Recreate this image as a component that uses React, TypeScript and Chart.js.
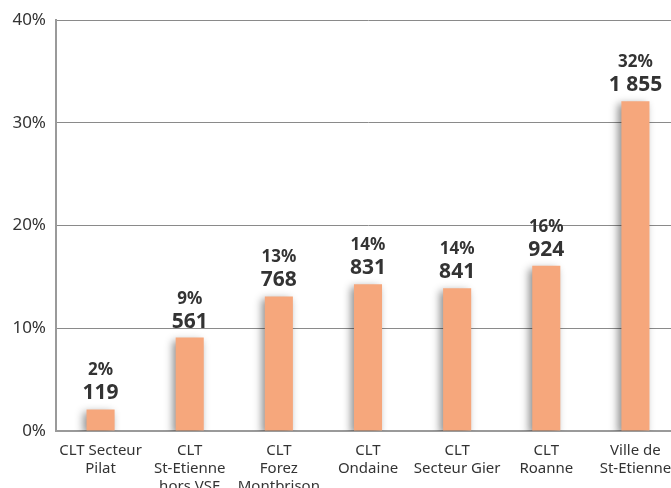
import React, { useEffect, useRef } from "react";
import { Chart, registerables } from "chart.js";

Chart.register(...registerables);

const categories: string[][] = [
  ["CLT Secteur", "Pilat"],
  ["CLT", "St-Etienne", "hors VSE"],
  ["CLT", "Forez", "Montbrison"],
  ["CLT", "Ondaine"],
  ["CLT", "Secteur Gier"],
  ["CLT", "Roanne"],
  ["Ville de", "St-Etienne"],
];
const shareValues: number[] = [2.1, 9.1, 13.1, 14.3, 13.9, 16.1, 32.1];
const percentLabels: string[] = ["2%", "9%", "13%", "14%", "14%", "16%", "32%"];
const countLabels: string[] = ["119", "561", "768", "831", "841", "924", "1 855"];
const yTicks: number[] = [0, 10, 20, 30, 40];

const FONT = "'Noto Sans', 'Open Sans', sans-serif";
const TEXT = "#333333";

const shadowPlugin = {
  id: "barShadow",
  beforeDatasetsDraw(chart: any) {
    const ctx = chart.ctx;
    ctx.save();
    ctx.shadowColor = "rgba(0,0,0,0.45)";
    ctx.shadowBlur = 8;
    ctx.shadowOffsetX = -3;
    ctx.shadowOffsetY = 3;
  },
  afterDatasetsDraw(chart: any) {
    chart.ctx.restore();
  },
};

const labelPlugin = {
  id: "barLabels",
  afterDraw(chart: any) {
    const ctx = chart.ctx;
    const meta = chart.getDatasetMeta(0);
    ctx.save();
    ctx.fillStyle = TEXT;
    ctx.textAlign = "center";
    ctx.textBaseline = "alphabetic";
    meta.data.forEach((bar: any, i: number) => {
      ctx.font = `bold 21px ${FONT}`;
      ctx.fillText(countLabels[i], bar.x, bar.y - 10);
      ctx.font = `bold 17px ${FONT}`;
      ctx.fillText(percentLabels[i], bar.x, bar.y - 34);
    });
    ctx.restore();
  },
};

export default function App() {
  const ref = useRef<HTMLCanvasElement | null>(null);

  useEffect(() => {
    if (!ref.current) return;
    const chart = new Chart(ref.current, {
      type: "bar",
      data: {
        labels: categories,
        datasets: [
          {
            data: shareValues,
            backgroundColor: "#F6A77C",
            borderWidth: 0,
            categoryPercentage: 1,
            barPercentage: 0.315,
          },
        ],
      },
      options: {
        responsive: false,
        animation: false,
        devicePixelRatio: 1,
        layout: { padding: { top: 16, right: 20, left: 0, bottom: 0 } },
        plugins: {
          legend: { display: false },
          tooltip: { enabled: false },
          title: { display: false },
        },
        scales: {
          x: {
            grid: { display: false, drawTicks: false },
            border: { color: "#9a9a9a", width: 2 },
            ticks: {
              color: TEXT,
              font: { family: FONT, size: 15, lineHeight: 1.2 },
              padding: 11,
              maxRotation: 0,
              autoSkip: false,
            },
            afterFit(scale: any) {
              scale.height = 89;
            },
          },
          y: {
            min: 0,
            max: 40,
            afterBuildTicks(scale: any) {
              scale.ticks = yTicks.map((v) => ({ value: v }));
            },
            grid: { color: "#8a8a8a", lineWidth: 1, drawTicks: false },
            border: { color: "#9a9a9a", width: 2 },
            ticks: {
              color: TEXT,
              font: { family: FONT, size: 17 },
              padding: 10,
              callback: (v: any) => `${v}%`,
            },
            afterFit(scale: any) {
              scale.width = 56;
            },
          },
        },
      },
      plugins: [shadowPlugin, labelPlugin],
    });
    return () => chart.destroy();
  }, []);

  return (
    <div
      style={{
        position: "fixed",
        left: 0,
        top: 0,
        width: 671,
        height: 488,
        overflow: "hidden",
        background: "#fff",
      }}
    >
      <canvas ref={ref} width={700} height={520} style={{ display: "block" }} />
    </div>
  );
}
